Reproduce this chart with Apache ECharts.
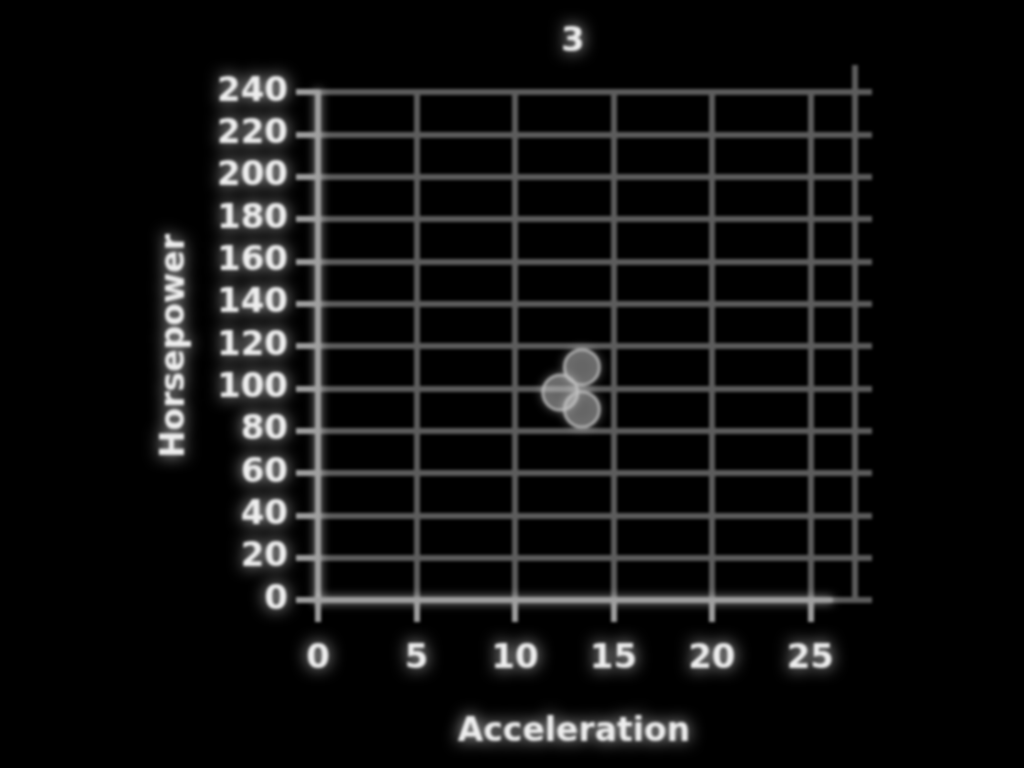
<!DOCTYPE html>
<html><head><meta charset="utf-8">
<script src="https://cdn.jsdelivr.net/npm/echarts@6/dist/echarts.min.js"></script>
<style>html,body{margin:0;padding:0;background:#000;}#c{width:1024px;height:768px;filter:blur(1.8px);}</style>
</head><body><div id="c"></div>
<script>
const titleText = '3';
const xName = 'Acceleration';
const yName = 'Horsepower';
const accel = [13.4, 12.3, 13.4];
const horsepower = [110, 98, 90];

const pts = accel.map((a, i) => [a, horsepower[i]]);
const glowText = {color:'#eee', fontFamily:'DejaVu Sans', fontWeight:'bold', textShadowColor:'rgba(255,255,255,0.85)', textShadowBlur:16};
const gridLine = {color:'#5c5c5c', width:6};
const axisLn = {color:'#a0a0a0', width:6, shadowColor:'rgba(255,255,255,0.6)', shadowBlur:10};
const chart = echarts.init(document.getElementById('c'), null, {renderer:'canvas'});
chart.setOption({
  backgroundColor:'#000',
  animation:false,
  title:{text:titleText, left:556, top:20, textStyle:Object.assign({fontSize:34}, glowText)},
  grid:[
    {left:318, right:194, top:92, bottom:168},
    {left:826, right:152, top:92, bottom:168},
    {left:318, right:152, top:65, bottom:168}
  ],
  xAxis:[
    {gridIndex:0, type:'value', min:0, max:26, interval:5,
      name:xName, nameLocation:'middle', nameGap:116,
      nameTextStyle:Object.assign({fontSize:33}, glowText),
      axisLine:{lineStyle:axisLn},
      axisTick:{show:true, length:22, lineStyle:{color:'#a0a0a0', width:6}},
      axisLabel:{fontSize:34, margin:42, ...glowText, showMaxLabel:false},
      splitLine:{show:true, showMaxLine:false, lineStyle:gridLine}},
    {gridIndex:1, type:'value', min:0, max:2, show:false, splitLine:{show:false}},
    {gridIndex:2, type:'value', min:0, max:28.1, interval:27.2,
      axisLine:{show:false}, axisTick:{show:false}, axisLabel:{show:false},
      splitLine:{show:true, showMinLine:false, showMaxLine:false, lineStyle:gridLine}}
  ],
  yAxis:[
    {gridIndex:0, type:'value', min:0, max:240, interval:20,
      name:yName, nameLocation:'middle', nameGap:126, nameRotate:90,
      nameTextStyle:Object.assign({fontSize:33}, glowText),
      axisLine:{show:true, onZero:false, lineStyle:axisLn},
      axisTick:{show:true, length:22, lineStyle:{color:'#a0a0a0', width:6}},
      axisLabel:{fontSize:34, margin:30, ...glowText},
      splitLine:{show:true, showMinLine:false, lineStyle:gridLine}},
    {gridIndex:1, type:'value', min:0, max:240, interval:20,
      axisLine:{show:false}, axisTick:{show:false}, axisLabel:{show:false},
      splitLine:{show:true, showMinLine:true, showMaxLine:true, lineStyle:gridLine}},
    {gridIndex:2, type:'value', min:0, max:250, show:false, splitLine:{show:false}}
  ],
  series:[{type:'scatter', xAxisIndex:0, yAxisIndex:0, data:pts, symbolSize:35, z:6,
    itemStyle:{color:'rgba(180,180,180,0.5)', borderColor:'#c0c0c0', borderWidth:3, shadowColor:'rgba(255,255,255,0.5)', shadowBlur:10}}]
});
</script></body></html>
